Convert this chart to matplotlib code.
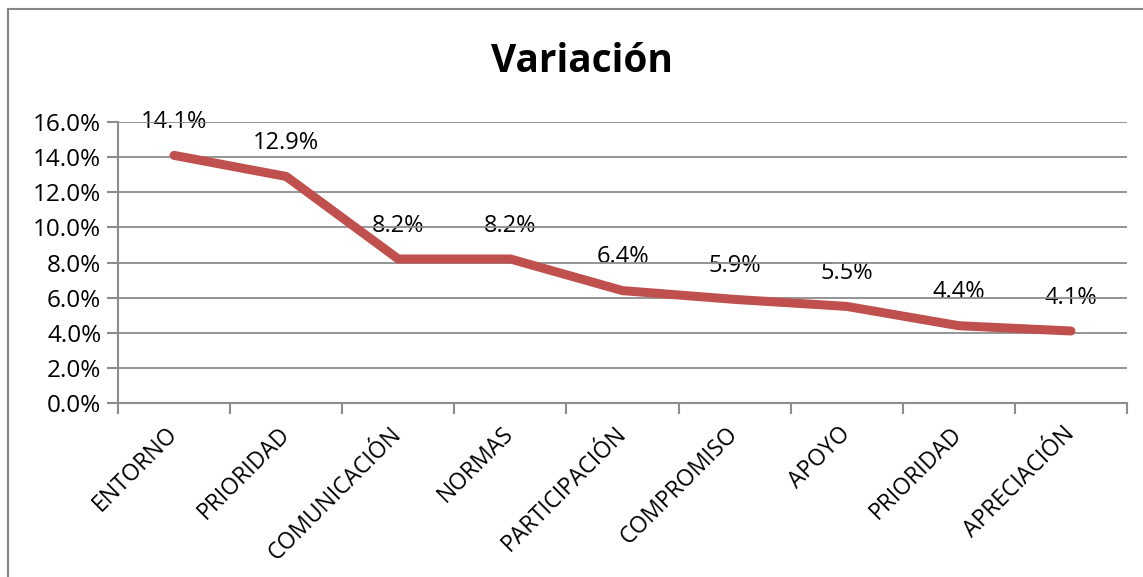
import numpy as np
import matplotlib.pyplot as plt
from matplotlib.patches import Rectangle

plt.rcParams['font.family'] = ['Open Sans', 'DejaVu Sans']

categories = ['ENTORNO', 'PRIORIDAD', 'COMUNICACIÓN', 'NORMAS', 'PARTICIPACIÓN',
              'COMPROMISO', 'APOYO', 'PRIORIDAD', 'APRECIACIÓN']
values = [14.1, 12.9, 8.2, 8.2, 6.4, 5.9, 5.5, 4.4, 4.1]
y_ticks = [0, 2, 4, 6, 8, 10, 12, 14, 16]

grid_color = '#8c8c8c'
line_color = '#C0504D'

fig = plt.figure(figsize=(11.43, 5.77), dpi=100)
ax = fig.add_axes([118 / 1143, 1 - 403 / 577, (1127 - 118) / 1143, (403 - 122) / 577])

x = np.arange(len(categories))
ax.plot(x, values, color=line_color, linewidth=6.5, solid_capstyle='round',
        solid_joinstyle='round', zorder=3)

# data labels above each point
for xi, v in zip(x, values):
    ax.annotate(f'{v:.1f}%', (xi, v), xytext=(0, 24), textcoords='offset points',
                ha='center', va='center', fontsize=17, zorder=0.4)

ax.set_xlim(-0.5, len(categories) - 0.5)
ax.set_ylim(0, 16)

ax.set_yticks(y_ticks)
ax.set_yticklabels([f'{t:.1f}%' for t in y_ticks], fontsize=17.5)
ax.set_xticks(x)
ax.set_xticklabels(categories, rotation=45, ha='right', va='center',
                   rotation_mode='anchor', fontsize=16.5)
ax.tick_params(axis='x', which='major', length=0, pad=20)
ax.set_xticks(np.arange(-0.5, len(categories), 1), minor=True)
ax.tick_params(axis='x', which='minor', length=8, width=1.5, color=grid_color, direction='out')
ax.tick_params(axis='y', length=8, width=1.5, color=grid_color, direction='out', pad=4)

ax.set_axisbelow(True)
ax.yaxis.grid(True, color=grid_color, linewidth=1.3)

for side in ['top', 'right']:
    ax.spines[side].set_visible(False)
for side in ['left', 'bottom']:
    ax.spines[side].set_color(grid_color)
    ax.spines[side].set_linewidth(1.5)

fig.text(582 / 1143, 1 - 62 / 577, 'Variación', ha='center', va='center',
         fontsize=28, fontweight='bold')

# chart border
fig.patches.append(Rectangle((8 / 1143, -0.1), 1.2, 1.1 - 9 / 577, transform=fig.transFigure,
                             fill=False, edgecolor='#868686', linewidth=1.5))

fig.savefig('out.png', dpi=100)
